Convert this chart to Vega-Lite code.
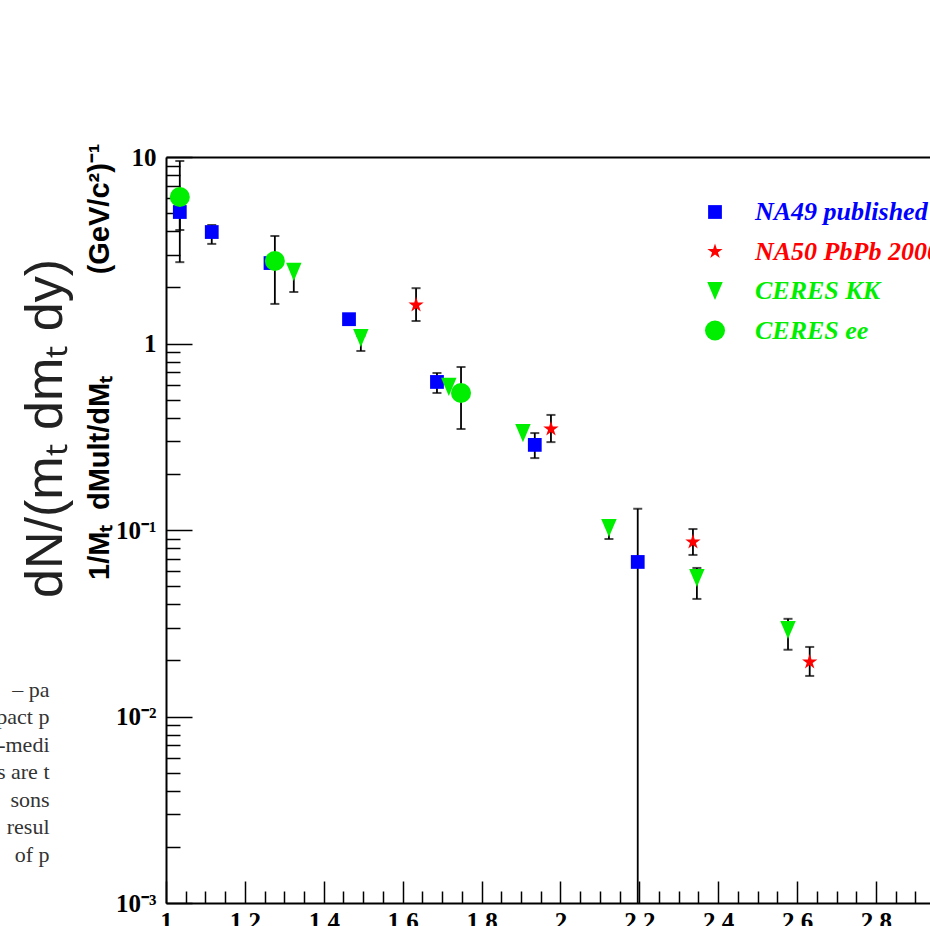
{
  "$schema": "https://vega.github.io/schema/vega-lite/v6.json",
  "autosize": {"type": "none"},
  "padding": {"left": 166, "top": 157, "right": 0, "bottom": 23},
  "width": 764,
  "height": 746,
  "background": "white",
  "view": {"stroke": null},
  "datasets": {
    "pts": [
      {"series": "NA49 published", "x": 1.035, "y": 5.07, "lo": 4.06, "hi": 6.3},
      {"series": "NA49 published", "x": 1.116, "y": 3.96, "lo": 3.42, "hi": 4.32},
      {"series": "NA49 published", "x": 1.265, "y": 2.70},
      {"series": "NA49 published", "x": 1.464, "y": 1.35},
      {"series": "NA49 published", "x": 1.687, "y": 0.622, "lo": 0.543, "hi": 0.695},
      {"series": "NA49 published", "x": 1.935, "y": 0.286, "lo": 0.243, "hi": 0.331},
      {"series": "NA49 published", "x": 2.196, "y": 0.0674, "lo": 0.0009, "hi": 0.130},
      {"series": "NA50 PbPb 2000", "x": 1.634, "y": 1.61, "lo": 1.32, "hi": 1.98},
      {"series": "NA50 PbPb 2000", "x": 1.976, "y": 0.348, "lo": 0.296, "hi": 0.414},
      {"series": "NA50 PbPb 2000", "x": 2.336, "y": 0.0863, "lo": 0.0735, "hi": 0.1012},
      {"series": "NA50 PbPb 2000", "x": 2.632, "y": 0.0196, "lo": 0.0165, "hi": 0.0236},
      {"series": "CERES KK", "x": 1.324, "y": 2.42, "lo": 1.89, "hi": 2.67},
      {"series": "CERES KK", "x": 1.494, "y": 1.07, "lo": 0.912, "hi": 1.10},
      {"series": "CERES KK", "x": 1.717, "y": 0.585},
      {"series": "CERES KK", "x": 1.905, "y": 0.331},
      {"series": "CERES KK", "x": 2.123, "y": 0.1025, "lo": 0.0895, "hi": 0.108},
      {"series": "CERES KK", "x": 2.346, "y": 0.0553, "lo": 0.0427, "hi": 0.0626},
      {"series": "CERES KK", "x": 2.577, "y": 0.0291, "lo": 0.0228, "hi": 0.0334},
      {"series": "CERES ee", "x": 1.035, "y": 6.10, "lo": 2.73, "hi": 9.52},
      {"series": "CERES ee", "x": 1.276, "y": 2.77, "lo": 1.63, "hi": 3.77},
      {"series": "CERES ee", "x": 1.748, "y": 0.543, "lo": 0.348, "hi": 0.748}
    ]
  },
  "data": {"name": "pts"},
  "resolve": {"axis": {"x": "independent"}},
  "layer": [
    {
      "transform": [{"filter": "datum.lo != null"}],
      "mark": {"type": "rule", "color": "black", "strokeWidth": 1.8, "clip": true},
      "encoding": {
        "x": {
          "field": "x", "type": "quantitative",
          "scale": {"domain": [1, 2.937], "nice": false, "zero": false},
          "axis": {
            "orient": "bottom",
            "values": [1, 1.05, 1.1, 1.15, 1.2, 1.25, 1.3, 1.35, 1.4, 1.45, 1.5, 1.55, 1.6, 1.65, 1.7, 1.75, 1.8, 1.85, 1.9, 1.95, 2, 2.05, 2.1, 2.15, 2.2, 2.25, 2.3, 2.35, 2.4, 2.45, 2.5, 2.55, 2.6, 2.65, 2.7, 2.75, 2.8, 2.85, 2.9],
            "labelExpr": "abs(datum.value*5 - round(datum.value*5)) < 0.000001 ? format(datum.value, '.1~f') : ''",
            "tickSize": {"condition": {"test": "abs(datum.value*5 - round(datum.value*5)) < 0.000001", "value": -22}, "value": -12},
            "tickColor": "black", "tickWidth": 1.5,
            "domainColor": "black", "domainWidth": 2,
            "grid": false,
            "labelFlush": false, "labelOverlap": false, "labelBound": false,
            "labelFont": "Liberation Serif", "labelFontWeight": "bold", "labelFontSize": 25, "labelColor": "black",
            "labelPadding": 28,
            "title": ["–  pa", "pact p", "-medi", "s are t", "sons", "resul", "of p"],
            "titleAngle": 0,
            "titleAlign": "right",
            "titleBaseline": "alphabetic",
            "titleX": -117,
            "titleY": -207,
            "titleLineHeight": 27.5,
            "titleFont": "Liberation Serif",
            "titleFontSize": 22,
            "titleFontWeight": "normal",
            "titleColor": "#333333"
          }
        },
        "y": {
          "field": "lo", "type": "quantitative",
          "scale": {"type": "log", "domain": [0.001, 10], "nice": false},
          "axis": {
            "orient": "left",
            "values": [0.001, 0.002, 0.003, 0.004, 0.005, 0.006, 0.007, 0.008, 0.009, 0.01, 0.02, 0.03, 0.04, 0.05, 0.06, 0.07, 0.08, 0.09, 0.1, 0.2, 0.3, 0.4, 0.5, 0.6, 0.7, 0.8, 0.9, 1, 2, 3, 4, 5, 6, 7, 8, 9, 10],
            "labelExpr": "abs(datum.value-10) < 0.0001 ? '10' : abs(datum.value-1) < 0.0001 ? '1' : abs(datum.value-0.1) < 0.000001 ? '10⁻¹' : abs(datum.value-0.01) < 0.0000001 ? '10⁻²' : abs(datum.value-0.001) < 0.00000001 ? '10⁻³' : ''",
            "tickSize": {"condition": {"test": "abs(log(datum.value)/LN10 - round(log(datum.value)/LN10)) < 0.000001", "value": -26}, "value": -14},
            "tickColor": "black", "tickWidth": 1.5,
            "domainColor": "black", "domainWidth": 2,
            "grid": false,
            "labelFlush": false, "labelOverlap": false, "labelBound": false,
            "labelFont": "Liberation Serif", "labelFontWeight": "bold", "labelFontSize": 25, "labelColor": "black",
            "labelPadding": 36,
            "title": "1/Mₜ\u2002dMult/dMₜ\u2003\u2003\u2003\u2002(GeV/c²)⁻¹",
            "titleFont": "Liberation Sans",
            "titleFontWeight": "bold",
            "titleFontSize": 29,
            "titleColor": "black",
            "titleAnchor": "end",
            "titleY": -14,
            "titlePadding": 1
          }
        },
        "y2": {"field": "hi"}
      }
    },
    {
      "transform": [{"filter": "datum.lo != null"}, {"fold": ["lo", "hi"], "as": ["end", "ev"]}],
      "mark": {"type": "tick", "orient": "horizontal", "color": "black", "size": 9, "thickness": 2, "clip": true},
      "encoding": {
        "x": {"field": "x", "type": "quantitative", "axis": null},
        "y": {"field": "ev", "type": "quantitative"}
      }
    },
    {
      "mark": {"type": "point", "filled": true, "opacity": 1, "strokeWidth": 0},
      "encoding": {
        "x": {
          "field": "x", "type": "quantitative",
          "axis": {
            "orient": "top", "labels": false, "ticks": false, "grid": false,
            "domain": true, "domainColor": "black", "domainWidth": 2,
            "title": "dN/(mₜ dmₜ dy)",
            "titleAngle": 270,
            "titleX": -121,
            "titleY": 271,
            "titleAlign": "center",
            "titleBaseline": "middle",
            "titleFont": "Liberation Sans",
            "titleFontSize": 52,
            "titleFontWeight": "normal",
            "titleColor": "#222222"
          }
        },
        "y": {"field": "y", "type": "quantitative"},
        "color": {
          "field": "series", "type": "nominal",
          "scale": {"domain": ["NA49 published", "NA50 PbPb 2000", "CERES KK", "CERES ee"], "range": ["#0000ff", "#ff0000", "#00ee00", "#00ee00"]},
          "legend": {
            "title": null, "orient": "none", "legendX": 536, "legendY": 42,
            "padding": 0, "rowPadding": 13.5, "labelOffset": 27, "labelLimit": 500,
            "symbolSize": 150,
            "labelFont": "Liberation Serif", "labelFontSize": 26, "labelFontStyle": "italic", "labelFontWeight": "bold",
            "symbolOpacity": 1, "symbolStrokeWidth": 0,
            "encode": {
              "symbols": {"update": {"size": {"value": 160}}},
              "labels": {"update": {"fill": {"signal": "datum.value == 'NA49 published' ? '#0000ff' : datum.value == 'NA50 PbPb 2000' ? '#ff0000' : '#00ee00'"}}}
            }
          }
        },
        "shape": {
          "field": "series", "type": "nominal",
          "scale": {"domain": ["NA49 published", "NA50 PbPb 2000", "CERES KK", "CERES ee"], "range": ["square", "M0,-1L0.2245,-0.309L0.951,-0.309L0.363,0.118L0.588,0.809L0,0.382L-0.588,0.809L-0.363,0.118L-0.951,-0.309L-0.2245,-0.309Z", "M-0.85,-1L0.85,-1L0,1Z", "circle"]}
        },
        "size": {
          "field": "series", "type": "nominal", "legend": null,
          "scale": {"domain": ["NA49 published", "NA50 PbPb 2000", "CERES KK", "CERES ee"], "range": [190, 400, 420, 300]}
        }
      }
    }
  ]
}
